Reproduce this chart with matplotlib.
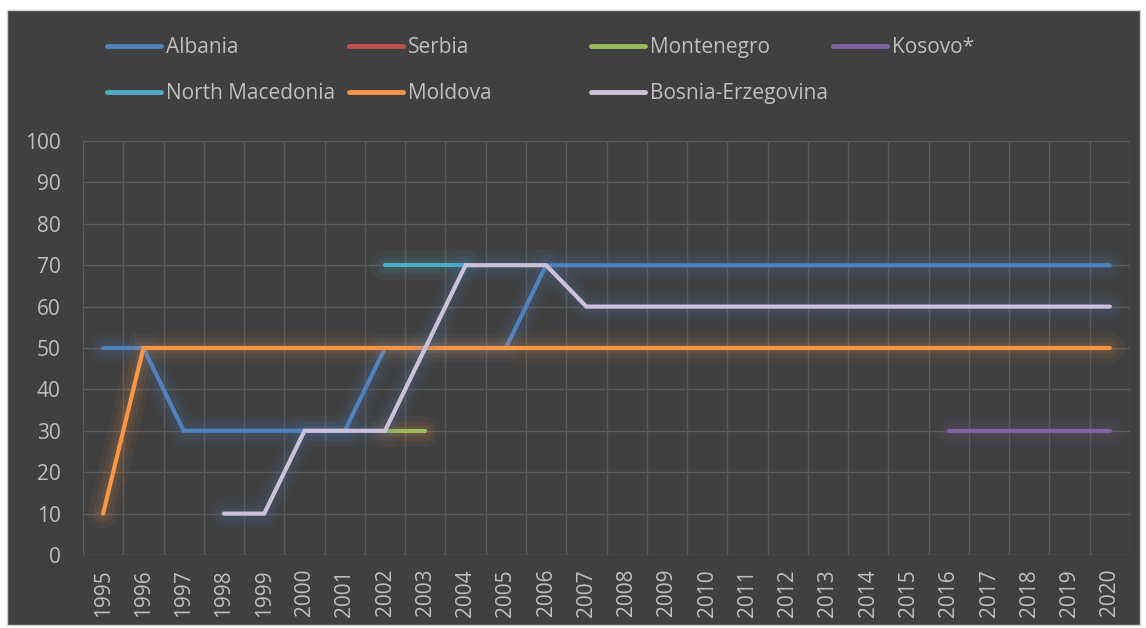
import numpy as np
import matplotlib.pyplot as plt
import matplotlib.patheffects as pe
from matplotlib.patches import Rectangle

nan = np.nan
years = list(range(1995, 2021))

albania = [50, 50, 30, 30, 30, 30, 30, 50, 50, 50, 50, 70, 70, 70, 70, 70, 70, 70, 70, 70, 70, 70, 70, 70, 70, 70]
serbia = [nan] * 26
montenegro = [nan] * 7 + [30, 30] + [nan] * 17
kosovo = [nan] * 21 + [30, 30, 30, 30, 30]
north_macedonia = [nan] * 7 + [70, 70, 70] + [nan] * 16
moldova = [10] + [50] * 25
bosnia = [nan, nan, nan, 10, 10, 30, 30, 30, 50, 70, 70, 70, 60, 60, 60, 60, 60, 60, 60, 60, 60, 60, 60, 60, 60, 60]

# name, values, line colour, glow colour
series = [
    ("Albania", albania, "#4f81bd", "#4f81bd"),
    ("Serbia", serbia, "#c0504d", "#c0504d"),
    ("Montenegro", montenegro, "#9bbb59", "#f79646"),
    ("Kosovo*", kosovo, "#8064a2", "#8064a2"),
    ("North Macedonia", north_macedonia, "#4bacc6", "#4bacc6"),
    ("Moldova", moldova, "#f79646", "#f79646"),
    ("Bosnia-Erzegovina", bosnia, "#ccc1da", "#4f81bd"),
]

bg = "#404040"
txt = "#bfbfbf"
plt.rcParams['font.family'] = ['Open Sans', 'DejaVu Sans']

fig = plt.figure(figsize=(11.46, 6.28), dpi=100, facecolor="white")
fig.patches.append(Rectangle((7 / 1146, 3 / 628), 1133 / 1146, 615 / 628,
                             transform=fig.transFigure, facecolor=bg,
                             edgecolor="#d0d0d0", lw=1, zorder=-10))

ax = fig.add_axes([83 / 1146, 1 - 555 / 628, 1047 / 1146, 414 / 628])
ax.set_facecolor(bg)

x = np.arange(len(years))
handles = []
for name, vals, col, gcol in series:
    glow = [pe.Stroke(linewidth=22, foreground=gcol, alpha=0.05),
            pe.Stroke(linewidth=14, foreground=gcol, alpha=0.07),
            pe.Stroke(linewidth=8, foreground=gcol, alpha=0.08),
            pe.Normal()]
    ln, = ax.plot(x, vals, color=col, lw=3, solid_capstyle="round",
                  solid_joinstyle="miter", label=name, path_effects=glow)
    handles.append(ln)

ax.set_xlim(-0.5, len(years) - 0.5)
ax.set_ylim(0, 100)
ax.set_yticks(range(0, 101, 10))
ax.set_xticks(x)
ax.set_xticklabels([str(y) for y in years], rotation=90)
ax.set_xticks(np.arange(-0.5, len(years), 1), minor=True)
ax.grid(axis="y", which="major", color="#5a5a5a", lw=1)
ax.grid(axis="x", which="minor", color="#5a5a5a", lw=1)
ax.set_axisbelow(True)
ax.tick_params(axis="both", which="both", length=0, colors=txt, labelsize=15)
ax.tick_params(axis="y", pad=16)
ax.tick_params(axis="x", pad=10)
for s in ax.spines.values():
    s.set_visible(False)

# legend: 4 fixed-width columns, rows filled left to right
col_x = [107, 349, 591, 833]
for c in range(4):
    hs = [handles[i] for i in (c, c + 4) if i < len(handles)]
    leg = fig.legend(handles=hs, loc="upper left",
                     bbox_to_anchor=(col_x[c] / 1146, 1 - 37 / 628),
                     frameon=False, fontsize=15, labelcolor=txt,
                     handlelength=2.6, handletextpad=0.25,
                     labelspacing=1.2, borderaxespad=0, borderpad=0)
    for h in leg.get_lines():
        h.set_path_effects([])
        h.set_linewidth(3.5)

fig.savefig("out.png", dpi=100, facecolor="white")
